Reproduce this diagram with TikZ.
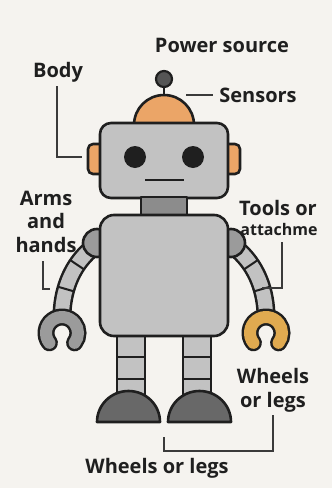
\documentclass[tikz,border=0pt]{standalone}
\usepackage{fontspec}
\setmainfont{Open Sans}
\definecolor{bg}{HTML}{F5F3EF}
\definecolor{ink}{HTML}{1F1F1F}
\definecolor{lead}{HTML}{3A3A3A}
\definecolor{metal}{HTML}{C2C2C2}
\definecolor{joint}{HTML}{9B9B9B}
\definecolor{neckc}{HTML}{8C8C8C}
\definecolor{shoe}{HTML}{686868}
\definecolor{ball}{HTML}{555555}
\definecolor{copper}{HTML}{EBA567}
\definecolor{gold}{HTML}{E0AA50}
\begin{document}
\begin{tikzpicture}[x=1pt,y=-1pt,
  outl/.style={draw=ink, line width=2.6pt, line join=round},
  lbl/.style={font=\bfseries\fontsize{20}{23.5}\selectfont, text=ink, inner sep=0pt, anchor=base},
  lblsmall/.style={font=\bfseries\fontsize{16}{20}\selectfont, text=ink, inner sep=0pt, anchor=base},
  leader/.style={draw=lead, line width=1.4pt},
  sep/.style={rectangle, draw=ink, line width=2pt, minimum width=0pt, minimum height=17pt, inner sep=0pt},
  tube/.style={draw=ink, line width=19pt},
  tubefill/.style={draw=metal, line width=14pt},
  handout/.style={draw=ink, line width=17pt, line cap=round},
]
% canvas
\fill[bg] (0,0) rectangle (332,488);
\useasboundingbox (0,0) rectangle (332,488);

% antenna
\draw[ink, line width=2.4pt] (164,87) -- (164,106);
\node[circle, fill=ball, draw=ink, line width=2.2pt, minimum size=16pt, inner sep=0pt] (ball) at (164,79) {};
\filldraw[fill=copper, outl] (134,125) arc[start angle=180, end angle=360, radius=30] -- cycle;

% ears and head
\filldraw[fill=copper, outl, rounded corners=5pt] (88,144) rectangle (106,174);
\filldraw[fill=copper, outl, rounded corners=5pt] (222,144) rectangle (240,174);
\filldraw[fill=metal, outl, rounded corners=11pt] (100,123) rectangle (228,198);
\fill[ink] (135,157) circle[radius=11];
\fill[ink] (193,157) circle[radius=11];
\draw[ink, line width=2.2pt] (145,180) -- (184,180);

% neck
\filldraw[fill=neckc, outl] (141,197) rectangle (187,216);

% arms
\draw[tube] (90,250) .. controls (74,264) and (63,286) .. (62,314);
\draw[tubefill] (90,250) .. controls (74,264) and (63,286) .. (62,314);
\path (90,250) .. controls (74,264) and (63,286) .. (62,314)
  node[sep, sloped, pos=0.3] (lsep1) {} node[sep, sloped, pos=0.68] (lsep2) {};
\draw[tube] (238,250) .. controls (254,264) and (265,286) .. (266,314);
\draw[tubefill] (238,250) .. controls (254,264) and (265,286) .. (266,314);
\path (238,250) .. controls (254,264) and (265,286) .. (266,314)
  node[sep, sloped, pos=0.3] (rsep1) {} node[sep, sloped, pos=0.68] (rsep2) {};

% hands
\draw[handout] (62,333) ++(142:16) arc[start angle=142, end angle=398, radius=16];
\draw[joint, line width=12pt, line cap=round] (62,333) ++(142:16) arc[start angle=142, end angle=398, radius=16];
\draw[handout] (266,333) ++(142:16) arc[start angle=142, end angle=398, radius=16];
\draw[gold, line width=12pt, line cap=round] (266,333) ++(142:16) arc[start angle=142, end angle=398, radius=16];

% shoulders
\filldraw[fill=joint, outl] (97,243) circle[radius=14];
\filldraw[fill=joint, outl] (231,243) circle[radius=14];

% legs
\filldraw[fill=metal, outl] (117,330) rectangle (145,405);
\draw[ink, line width=2.2pt] (117,357) -- (145,357) (117,379) -- (145,379);
\filldraw[fill=metal, outl] (183,330) rectangle (211,405);
\draw[ink, line width=2.2pt] (183,357) -- (211,357) (183,379) -- (211,379);

% torso
\filldraw[fill=metal, outl, rounded corners=14pt] (100,215) rectangle (228,336);

% feet
\filldraw[fill=shoe, outl] (97,422) arc[start angle=180, end angle=360, x radius=31.5, y radius=31] -- cycle;
\filldraw[fill=shoe, outl] (168,422) arc[start angle=180, end angle=360, x radius=31.5, y radius=31] -- cycle;

% labels
\node[lbl] (power) at (222,52) {Power source};
\node[lbl] (bodyl) at (58,77) {Body};
\node[lbl] (sens) at (258,102) {Sensors};
\node[lbl] (arms1) at (46,205) {Arms};
\node[lbl] (arms2) at (46,228) {and};
\node[lbl] (arms3) at (46,252) {hands};
\node[lbl] (tools) at (278,215) {Tools or};
\node[lblsmall] (attach) at (279,235) {attachme};
\node[lbl] (wheels1) at (273,383) {Wheels};
\node[lbl] (wheels2) at (273,407) {or legs};
\node[lbl] (wheelsB) at (157,473) {Wheels or legs};

% leader lines
\coordinate (bodyTop) at (57,86);
\coordinate (bodyEnd) at (82,157);
\draw[leader] (bodyTop) |- (bodyEnd);
\coordinate (sensA) at (186,95);
\coordinate (sensB) at (213,95);
\draw[leader] (sensA) -- (sensB);
\coordinate (armTop) at (43,261);
\coordinate (armEnd) at (50,289);
\draw[leader] (armTop) |- (armEnd);
\coordinate (toolTop) at (282,242);
\coordinate (toolEnd) at (262,288);
\draw[leader] (toolTop) |- (toolEnd);
\coordinate (wTop) at (273,415);
\coordinate (wCorner) at (273,451);
\coordinate (wEnd) at (164,437);
\draw[leader] (wTop) -- (wCorner) -| (wEnd);
\end{tikzpicture}
\end{document}
